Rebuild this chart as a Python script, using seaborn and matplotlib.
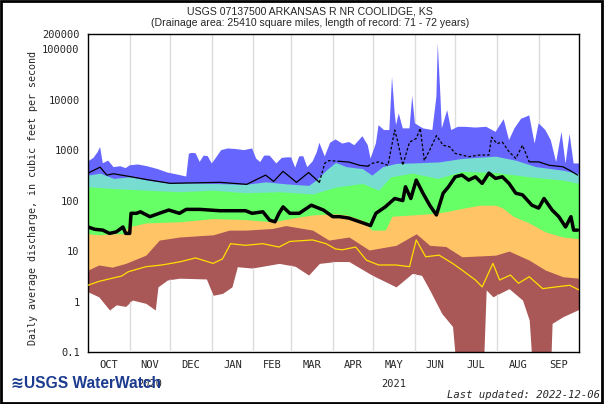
import numpy as np
import pandas as pd
import matplotlib
matplotlib.use('Agg')
import matplotlib.pyplot as plt
import matplotlib.ticker as mticker
from matplotlib.patches import Rectangle
import seaborn as sns

# water year 2021, days counted from 1 Oct 2020
start = pd.Timestamp('2020-10-01')

# maximum of record (top of blue band)
max_days = [0, 1, 4, 7, 9, 11, 15, 19, 24, 28,
            31, 37, 44, 52, 59, 66, 73, 75, 77, 80,
            83, 86, 89, 92, 95, 99, 104, 110, 116, 122,
            125, 128, 131, 135, 140, 144, 148, 151, 154, 157,
            160, 163, 167, 170, 172, 176, 180, 184, 189, 194,
            198, 204, 208, 210, 214, 216, 220, 224, 226, 228,
            229, 231, 234, 239, 241, 243, 249, 256, 259, 260,
            262, 263, 267, 270, 275, 280, 288, 296, 303, 309,
            313, 317, 322, 325, 328, 332, 335, 340, 344, 348,
            352, 355, 358, 361, 365]
max_flow = [600, 620, 700, 900, 1150, 550, 620, 460, 480, 440,
            500, 520, 480, 420, 360, 330, 300, 850, 880, 870,
            585, 780, 760, 545, 700, 1000, 1080, 1050, 1000, 1080,
            680, 580, 780, 780, 545, 700, 720, 720, 450, 750,
            760, 460, 600, 900, 1400, 750, 1400, 1630, 1350, 1450,
            1250, 1890, 1250, 684, 1350, 3130, 2500, 2500, 28300, 5350,
            3130, 5350, 2700, 2700, 11900, 3400, 2700, 2500, 11500, 130000,
            11500, 2700, 6200, 2500, 2900, 2900, 2800, 2900, 2300, 4100,
            1580, 2700, 4200, 4500, 4900, 1350, 3400, 2500, 1580, 580,
            2300, 545, 2100, 545, 545]

# 90th percentile (top of cyan band)
p90_days = [0, 9, 19, 31, 44, 61, 75, 92, 117, 132, 147, 164, 170, 177,
            184, 192, 204, 211, 219, 229, 244, 261, 278, 303, 318, 333, 353, 365]
p90_flow = [320, 350, 275, 296, 255, 219, 225, 219, 210, 235, 215, 200, 260, 400,
            570, 470, 430, 320, 470, 545, 560, 585, 684, 760, 630, 470, 400, 340]

# 75th percentile (top of green band)
p75_days = [0, 18, 43, 68, 93, 117, 142, 167, 184, 204, 216, 225, 241, 260,
            278, 303, 328, 353, 365]
p75_flow = [188, 174, 161, 150, 161, 143, 150, 135, 185, 219, 161, 296, 350, 275,
            380, 360, 296, 255, 219]

# 25th percentile (top of orange band)
p25_days = [0, 8, 18, 26, 30, 43, 68, 93, 117, 137, 154, 167, 184, 192, 204,
            211, 221, 226, 241, 254, 266, 278, 291, 303, 308, 316, 328, 340, 353, 365]
p25_flow = [22, 21, 22, 22, 30, 36, 38, 44, 42, 38, 46, 52, 55, 52, 41,
            26, 26, 49, 52, 55, 60, 70, 81, 81, 72, 49, 36, 24, 19, 17.5]

# 10th percentile (top of brown band)
p10_days = [0, 8, 18, 28, 43, 53, 68, 93, 105, 117, 137, 147, 167, 179,
            194, 209, 229, 244, 254, 266, 278, 303, 313, 328, 340, 353, 365]
p10_flow = [4.2, 5.3, 4.8, 5.7, 8.3, 16.5, 19, 21, 26, 26, 28, 32, 26, 16.5,
            19, 10.5, 13, 22, 13, 12.3, 7.7, 8.3, 10, 6.6, 4.2, 3.1, 2.9]

# minimum of record (bottom of brown band), 0.01 = dry
min_days = [0, 8, 16, 21, 28, 33, 43, 50, 52, 59,
            68, 88, 93, 100, 107, 111, 122, 142, 154, 164,
            172, 184, 194, 211, 229, 241, 248, 254, 263, 271,
            276, 293, 296, 301, 306, 313, 323, 328, 332, 343,
            345, 353, 365]
min_flow = [1.56, 1.24, 0.68, 0.86, 0.8, 1.07, 0.92, 0.68, 1.95, 2.67,
            2.9, 2.8, 1.33, 1.45, 1.95, 4.9, 4.6, 5.7, 5.0, 3.35,
            5.7, 6.2, 6.2, 3.35, 1.95, 3.6, 3.3, 1.69, 0.58, 0.32,
            0.01, 0.01, 1.7, 1.24, 1.45, 1.8, 1.07, 0.43, 0.01, 0.01,
            0.37, 0.5, 0.7]

# yellow line
yel_days = [0, 8, 18, 25, 30, 43, 55, 68, 80, 93,
            100, 106, 117, 130, 142, 150, 167, 177, 184, 189,
            199, 207, 216, 229, 239, 244, 251, 261, 271, 278,
            288, 293, 301, 306, 314, 320, 328, 338, 348, 358, 365]
yel_flow = [2.1, 2.5, 2.9, 3.2, 3.9, 4.9, 5.3, 6.1, 7.3, 5.7,
            7.0, 14, 13, 14, 12, 15.5, 16.6, 14, 11, 10.6,
            12, 6.6, 5.3, 5.3, 4.9, 16.6, 7.7, 8.3, 5.7, 4.2,
            2.67, 1.95, 5.7, 2.67, 3.35, 2.3, 3.1, 1.8, 1.95, 2.1, 1.7]

# current water year flow (thick black)
cur_days = [0, 5, 11, 16, 21, 26, 28, 31, 32, 36,
            39, 46, 53, 60, 68, 73, 83, 98, 117, 122,
            130, 135, 139, 142, 145, 150, 157, 166, 175, 182,
            187, 194, 202, 210, 214, 221, 228, 234, 236, 240,
            244, 249, 254, 259, 264, 268, 273, 278, 283, 288,
            293, 298, 303, 308, 313, 318, 323, 330, 335, 339,
            345, 350, 355, 359, 361, 364]
cur_flow = [30, 27, 26, 22.4, 24, 30, 22.4, 22.4, 56, 56,
            60, 48, 56, 65, 56, 67, 67, 63, 63, 56,
            60, 41, 38, 56, 75, 56, 56, 81, 65, 48,
            48, 45, 38, 32, 56, 75, 110, 100, 188, 110,
            255, 140, 81, 52, 140, 188, 296, 320, 255, 296,
            219, 350, 275, 296, 219, 140, 130, 81, 71, 110,
            65, 48, 30, 48, 26, 26]

# mean daily flow (thin black)
mean_days = [0, 9, 14, 19, 31, 44, 61, 81, 98, 118,
             132, 138, 145, 155, 164, 172, 176, 179, 187, 194,
             202, 208, 211, 216, 223, 228, 230, 234, 239, 244,
             247, 250, 254, 259, 264, 269, 273, 278, 283, 291,
             298, 300, 304, 308, 313, 318, 323, 328, 335, 343,
             353, 358, 364]
mean_flow = [350, 460, 320, 340, 300, 260, 220, 225, 230, 210,
             320, 240, 380, 230, 360, 230, 550, 620, 600, 580,
             500, 480, 545, 585, 500, 2500, 1580, 500, 1440, 1700,
             2700, 620, 1000, 1940, 1250, 1160, 860, 800, 740, 800,
             800, 1800, 1350, 1440, 930, 684, 1250, 585, 585, 500,
             468, 400, 320]
mean_dashed = [(172, 187), (208, 328)]

month_labels = ['OCT', 'NOV', 'DEC', 'JAN', 'FEB', 'MAR',
                'APR', 'MAY', 'JUN', 'JUL', 'AUG', 'SEP']
ytick_vals = [0.1, 1, 10, 100, 1000, 10000, 100000, 200000]
ytick_text = ['0.1', '1', '10', '100', '1000', '10000', '100000', '200000']


def to_dates(days):
    return start + pd.to_timedelta(np.array(days, dtype=float), unit='D')


sns.set_style('white')
mono = 'DejaVu Sans Mono'

fig = plt.figure(figsize=(6.04, 4.04), dpi=100)
ax = fig.add_axes([88 / 604, 52 / 404, 491 / 604, 318 / 404])
ax.set_yscale('log')

month_starts = pd.date_range('2020-10-01', '2021-10-01', freq='MS')
for m in month_starts[1:-1]:
    ax.axvline(m, color='#dcdcdc', lw=1, zorder=0)

# bands drawn from the top down, each filled to the bottom
bands = [(max_days, max_flow, '#6666ff'),
         (p90_days, p90_flow, '#77ddd0'),
         (p75_days, p75_flow, '#66ff66'),
         (p25_days, p25_flow, '#ffc466'),
         (p10_days, p10_flow, '#aa5757')]
for d, v, c in bands:
    ax.fill_between(to_dates(d), v, 0.001, color=c, lw=0, zorder=1)
white = ax.fill_between(to_dates(min_days), min_flow, 0.001, color='white', lw=0, zorder=2)

# grid lines seen again below the minimum
clip = white.get_paths()[0]
for m in month_starts[1:-1]:
    gl = ax.axvline(m, color='#dcdcdc', lw=1, zorder=3)
    gl.set_clip_path(clip, ax.transData)

sns.lineplot(x=to_dates(yel_days), y=yel_flow, color='#ffe000', lw=0.9, ax=ax, zorder=4)

# mean line, partly dashed
md = np.array(mean_days)
mf = np.array(mean_flow)
edges = [0] + [e for r in mean_dashed for e in r] + [364]
for i in range(len(edges) - 1):
    lo, hi = edges[i], edges[i + 1]
    sel = (md >= lo) & (md <= hi)
    ls = (0, (2.2, 1.6)) if (lo, hi) in mean_dashed else '-'
    ax.plot(to_dates(md[sel]), mf[sel], color='black', lw=0.9, ls=ls, zorder=5)

sns.lineplot(x=to_dates(cur_days), y=cur_flow, color='black', lw=2.5, ax=ax, zorder=6)

ax.set_xlim(month_starts[0], month_starts[-1])
ax.set_ylim(0.1, 200000)
ax.set_xlabel('')
ax.set_ylabel('')

ax.set_xticks(month_starts)
ax.set_xticklabels([])
mids = [month_starts[i] + (month_starts[i + 1] - month_starts[i]) / 2 for i in range(12)]
ax.set_xticks(mids, minor=True)
ax.set_xticklabels(month_labels, minor=True, family=mono, fontsize=7.5)
ax.tick_params(axis='x', which='major', direction='in', length=4, width=0.8, color='#444444')
ax.tick_params(axis='x', which='minor', length=0, pad=6)

ax.set_yticks(ytick_vals)
ax.set_yticklabels(ytick_text, family=mono, fontsize=7.5)
ax.yaxis.set_minor_locator(mticker.LogLocator(base=10, subs=np.arange(2, 10)))
ax.yaxis.set_minor_formatter(mticker.NullFormatter())
ax.tick_params(axis='y', which='major', direction='in', length=7, width=0.8, pad=6)
ax.tick_params(axis='y', which='minor', direction='in', length=3.5, width=0.6)

for s in ax.spines.values():
    s.set_color('black')
    s.set_linewidth(1)

trans = ax.get_xaxis_transform()
ax.text(mids[1], -0.085, '2020', transform=trans, ha='center', va='top', family=mono, fontsize=7.5)
ax.text(mids[7], -0.085, '2021', transform=trans, ha='center', va='top', family=mono, fontsize=7.5)

fig.text(0.513, 0.972, 'USGS 07137500 ARKANSAS R NR COOLIDGE, KS', ha='center', va='center',
         family='Liberation Sans', fontsize=7.6)
fig.text(0.513, 0.943, '(Drainage area: 25410 square miles, length of record: 71 - 72 years)',
         ha='center', va='center', family='Liberation Sans', fontsize=7.6)
fig.text(33 / 604, 1 - 198 / 404, 'Daily average discharge, in cubic feet per second',
         rotation=90, ha='center', va='center', family=mono, fontsize=7.2)

# logo sits over the 2020 label, as in the original
fig.text(0.018, 0.052, '\u224bUSGS WaterWatch', ha='left', va='center', fontsize=11.2,
         weight='bold', color='#1c3b8e', family=['Liberation Sans', 'DejaVu Sans'])
fig.text(0.993, 0.022, 'Last updated: 2022-12-06', ha='right', va='center',
         family=mono, style='italic', fontsize=7.6)

fig.patches.append(Rectangle((0.002, 0.003), 0.995, 0.994, transform=fig.transFigure,
                             fill=False, lw=2, ec='black'))

fig.savefig('out.png', dpi=100)
